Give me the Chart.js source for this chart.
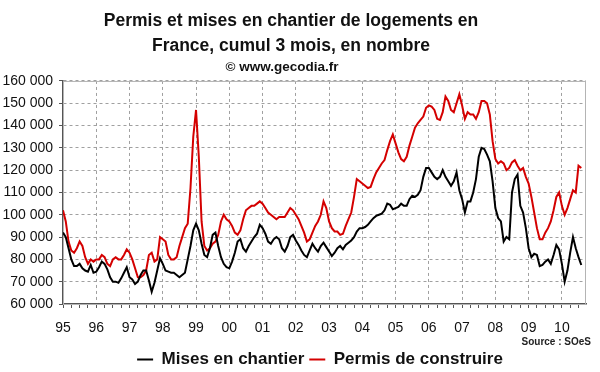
<!DOCTYPE html>
<html>
<head>
<meta charset="utf-8">
<script src="https://cdn.jsdelivr.net/npm/chart.js@4.4.1/dist/chart.umd.min.js"></script>
<style>
  html, body { margin: 0; padding: 0; background: #fff; }
  #wrap { width: 600px; height: 372px; position: relative; }
</style>
</head>
<body>
<div id="wrap"><canvas id="myChart"></canvas></div>
<script>
// tick labels, one per January (95 -> 10)
var yearLabels = ['95', '96', '97', '98', '99', '00', '01', '02', '03', '04', '05', '06', '07', '08', '09', '10'];

// Mises en chantier, cumul 3 mois, monthly from Jan 1995 to Aug 2010
var mises = [
  92000, 90000, 85000, 80000, 77000, 77000, 78000, 76000, 75000, 74500, 77500, 74000,
  74500, 76500, 79000, 78000, 75500, 72000, 70000, 70000, 69500, 71500, 74000, 76500,
  72000, 71000, 69000, 70000, 73000, 75000, 75000, 70500, 65500, 69500, 75000, 80500,
  78000, 75000, 74500, 74000, 74000, 73000, 72000, 73000, 74000, 80000, 86000, 93000,
  96000, 93000, 87000, 82000, 81000, 85000, 91000, 92000, 86000, 81000, 78000, 76500,
  76000, 79000, 83000, 88000, 89000, 85000, 83500, 86000, 88000, 90000, 91500, 95500,
  94000, 91500, 88000, 87000, 89000, 90000, 89000, 85000, 83500, 86000, 90000, 91000,
  88500, 86500, 84000, 82000, 81000, 84000, 87000, 85000, 83500, 86000, 87500, 85500,
  83500, 81500, 83000, 85000, 86000, 84500, 86500, 87500, 88500, 90000, 92500, 94000,
  94000, 94500, 95500, 97000, 98500, 99500, 100000, 100500, 102000, 105000, 104500, 102500,
  103000, 103500, 105000, 104000, 104000, 107000, 108500, 108000, 109000, 111000, 117000, 121000,
  121000, 119000, 117000, 116000, 117000, 120000, 117000, 115000, 113000, 115000, 119000, 111000,
  107000, 101000, 106000, 106000, 110000, 116000, 126000, 130000, 129500, 127000, 124000, 115000,
  103000, 98500, 97000, 88000, 90000, 89000, 110000, 116000, 118000, 104000, 101000, 94000,
  85000, 81000, 82500, 82000, 77000, 77500, 79000, 80000, 78000, 82000, 86500, 84500,
  78000, 70000, 75000, 83000, 90000, 85000, 81000, 77500
];

// Permis de construire, cumul 3 mois, same months
var permis = [
  102000, 97000, 88000, 84000, 83000, 85000, 88000, 86000, 81000, 78000, 80000, 79000,
  80000, 80000, 82000, 81000, 78000, 77000, 80000, 81000, 80000, 80000, 82000, 84500,
  83000, 80000, 76000, 72000, 72000, 73000, 75000, 82000, 83000, 79000, 80000, 90000,
  89000, 88000, 82000, 80000, 80000, 81000, 86000, 90000, 94000, 96000, 112000, 135000,
  147000, 126000, 97000, 86000, 84000, 85000, 87000, 88000, 91000, 97000, 100000, 98000,
  97000, 95000, 92000, 91000, 93000, 98000, 102000, 103000, 104000, 104000, 105000, 106000,
  105000, 103000, 101000, 100000, 99000, 98000, 99000, 99000, 99000, 101000, 103000, 102000,
  100000, 98000, 95000, 92000, 88000, 89000, 92000, 95000, 97000, 100000, 106000, 103000,
  97000, 94000, 92500, 92500, 91000, 91500, 95000, 98000, 101000, 108000, 116000, 115000,
  114000, 113000, 112000, 112500, 116000, 119000, 121000, 123000, 124500, 129000, 133000, 136000,
  132000, 128000, 125000, 124000, 126000, 131000, 135000, 139000, 141000, 142500, 144000, 148000,
  149000, 148500, 147000, 143000, 142500, 146000, 153000, 151000, 147000, 146000, 150000, 154000,
  149000, 143000, 146000, 145000, 145000, 143000, 146000, 151000, 151000, 150000, 145000, 133000,
  125000, 123000, 124000, 123000, 120000, 121000, 123500, 124500, 122000, 120000, 121000, 117000,
  114000, 108000, 101000, 94000, 89000, 89000, 92000, 94000, 97000, 102000, 108000, 110000,
  104000, 100000, 103000, 107000, 111000, 110000, 122000, 121000
];

// month index since Jan 1995
var months = mises.map(function (v, i) { return i; });

Chart.defaults.font.family = "'Liberation Sans', Arial, sans-serif";
Chart.defaults.color = '#111';

var gridColor = '#a0a0a0';

var frame = {
  id: 'frame',
  afterLayout: function (chart) {
    chart.boxes.forEach(function (b) {
      if (b instanceof Chart.Title._element) {
        var dx = Array.isArray(b.options.text) ? -2 : -11;
        b.left += dx; b.right += dx;
      }
      if (b instanceof Chart.Legend._element) {
        b.left += 27; b.right += 27;
        b.top += 6; b.bottom += 6;
      }
    });
  },
  beforeDatasetsDraw: function (chart) {
    var a = chart.chartArea, ctx = chart.ctx;
    ctx.save();
    ctx.strokeStyle = '#b4b4b4';
    ctx.lineWidth = 1;
    ctx.strokeRect(a.left + 0.5, a.top + 0.5, a.right - a.left - 1, a.bottom - a.top);
    ctx.restore();
  },
  afterDraw: function (chart) {
    var ctx = chart.ctx;
    ctx.save();
    ctx.font = "bold 10px 'Liberation Sans', Arial, sans-serif";
    ctx.fillStyle = '#222';
    ctx.textAlign = 'right';
    ctx.textBaseline = 'middle';
    ctx.fillText('Source : SOeS', 591, 342);
    ctx.restore();
  }
};

var ctx = document.getElementById('myChart');
var myChart = new Chart(ctx, {
  type: 'line',
  data: {
    labels: months,
    datasets: [
      {
        label: 'Mises en chantier',
        data: mises,
        borderColor: '#000000',
        backgroundColor: '#000000',
        borderWidth: 2,
        pointRadius: 0,
        tension: 0
      },
      {
        label: 'Permis de construire',
        data: permis,
        borderColor: '#d40000',
        backgroundColor: '#d40000',
        borderWidth: 2,
        pointRadius: 0,
        tension: 0
      }
    ]
  },
  options: {
    responsive: true,
    maintainAspectRatio: false,
    animation: false,
    layout: { padding: { left: 0, right: 14, top: 0, bottom: 0 } },
    plugins: {
      title: {
        display: true,
        text: ['Permis et mises en chantier de logements en', 'France, cumul 3 mois, en nombre'],
        font: { size: 17.5, weight: 'bold', lineHeight: 1.45 },
        color: '#111',
        padding: { top: 8, bottom: 0 }
      },
      subtitle: {
        display: true,
        text: '\u00a9 www.gecodia.fr',
        font: { size: 13.5, weight: 'bold', lineHeight: 1.2 },
        color: '#111',
        padding: { top: 0, bottom: 6 }
      },
      legend: {
        position: 'bottom',
        labels: {
          usePointStyle: true,
          pointStyle: 'line',
          pointStyleWidth: 16,
          font: { size: 17, weight: 'bold' },
          color: '#111',
          padding: 5
        }
      },
      tooltip: { enabled: false }
    },
    scales: {
      x: {
        type: 'linear',
        min: 0,
        max: 188.7,
        afterFit: function (s) { s.height = 36; },
        ticks: {
          stepSize: 3,
          autoSkip: false,
          maxRotation: 0,
          includeBounds: false,
          padding: 12,
          font: { size: 14 },
          color: '#111',
          callback: function (v) {
            return v % 12 === 0 ? yearLabels[v / 12] : '';
          }
        },
        grid: {
          color: function (c) {
            return c.tick && c.tick.value % 12 === 0 ? gridColor : 'rgba(0,0,0,0)';
          },
          lineWidth: 1,
          tickColor: '#555',
          tickLength: 4
        },
        border: { color: '#555', width: 1.5, dash: [3, 3] }
      },
      y: {
        min: 60000,
        max: 160000,
        afterFit: function (s) { s.width = 63; },
        ticks: {
          stepSize: 10000,
          padding: 6,
          font: { size: 14 },
          color: '#111',
          callback: function (v) { return (v / 1000) + ' 000'; }
        },
        grid: {
          color: gridColor,
          lineWidth: 1,
          tickColor: '#555',
          tickLength: 4
        },
        border: { color: '#555', width: 1.5, dash: [3, 3] }
      }
    }
  },
  plugins: [frame]
});
</script>
</body>
</html>
